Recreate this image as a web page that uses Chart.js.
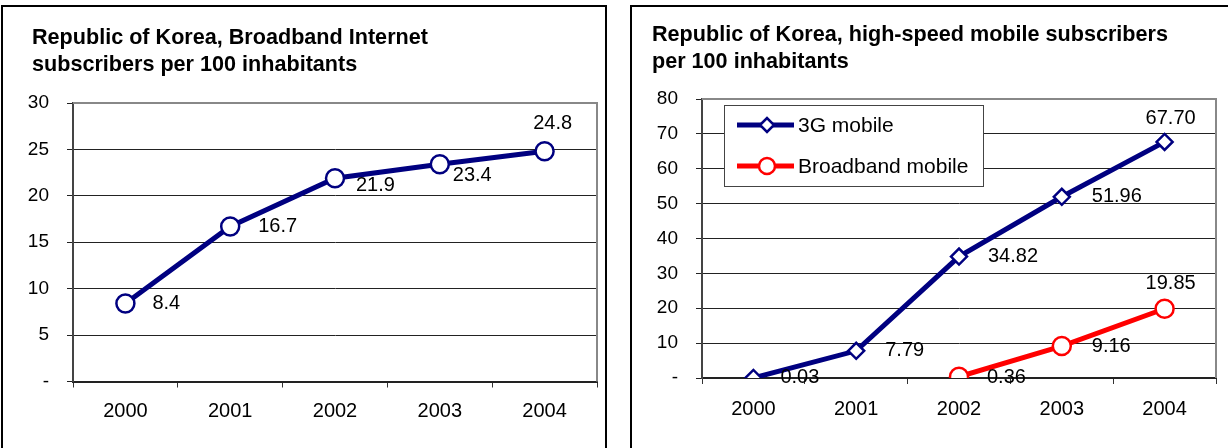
<!DOCTYPE html>
<html>
<head>
<meta charset="utf-8">
<script src="https://cdn.jsdelivr.net/npm/chart.js@4.4.1/dist/chart.umd.min.js"></script>
<style>
  html, body { margin: 0; padding: 0; background: #fff; overflow: hidden; }
  body { width: 1228px; height: 448px; position: relative; }
  .panel { position: absolute; top: 5px; height: 470px; border: 2px solid #000; background: #fff; }
  #panelLeft { left: 1px; width: 602px; }
  #panelRight { left: 630px; width: 640px; }
  canvas { position: absolute; top: 0; }
  #broadband { left: 0; }
  #mobile { left: 620px; }
</style>
</head>
<body>
<div class="panel" id="panelLeft"></div>
<div class="panel" id="panelRight"></div>
<canvas id="broadband" width="620" height="448"></canvas>
<canvas id="mobile" width="608" height="448"></canvas>
<script>
// data
const years = ['2000', '2001', '2002', '2003', '2004'];
const broadbandInternet = [8.4, 16.7, 21.9, 23.4, 24.8];
const mobile3G = [0.03, 7.79, 34.82, 51.96, 67.70];
const broadbandMobile = [null, null, 0.36, 9.16, 19.85];

const titleLeft = ['Republic of Korea, Broadband Internet', 'subscribers per 100 inhabitants'];
const titleRight = ['Republic of Korea, high-speed mobile subscribers', 'per 100 inhabitants'];

const FONT = "'Liberation Sans', Arial, sans-serif";
Chart.defaults.font.family = FONT;
Chart.defaults.color = '#000';

// where each value label sits relative to its point: [dx, dy, align]
const leftLabelPlaces = [
  [[27, 0, 'left'], [28, 0, 'left'], [21, 7, 'left'], [13, 11, 'left'], [8, -28, 'center']]
];
const rightLabelPlaces = [
  [[27, 0, 'left'], [29, 0, 'left'], [29, 0, 'left'], [30, 0, 'left'], [6, -23, 'center']],
  [null, null, [28, 1, 'left'], [30, 0, 'left'], [6, -25, 'center']]
];

const valueLabels = {
  id: 'valueLabels',
  afterDatasetsDraw(chart, args, opts) {
    const ctx = chart.ctx;
    ctx.save();
    ctx.font = '20px ' + FONT;
    ctx.fillStyle = '#000';
    ctx.textBaseline = 'middle';
    chart.data.datasets.forEach((ds, i) => {
      const meta = chart.getDatasetMeta(i);
      meta.data.forEach((pt, j) => {
        const v = ds.data[j];
        const place = opts.places[i][j];
        if (v === null || !place) return;
        ctx.textAlign = place[2];
        ctx.fillText(v.toFixed(opts.decimals), pt.x + place[0], pt.y + place[1]);
      });
    });
    ctx.restore();
  }
};

// title starts further right than the y axis labels
const titleShift = {
  id: 'titleShift',
  afterLayout(chart, args, opts) {
    if (chart.titleBlock) chart.titleBlock.left = opts.x;
  }
};

// grey top and right edge of the plot area
const plotFrame = {
  id: 'plotFrame',
  beforeDatasetsDraw(chart) {
    const ctx = chart.ctx, a = chart.chartArea;
    ctx.save();
    ctx.strokeStyle = '#888';
    ctx.lineWidth = 2;
    ctx.beginPath();
    ctx.moveTo(a.left, a.top);
    ctx.lineTo(a.right, a.top);
    ctx.lineTo(a.right, a.bottom);
    ctx.stroke();
    ctx.restore();
  }
};

function marker(ctx, style, x, y, r) {
  ctx.beginPath();
  if (style === 'rectRot') {
    ctx.moveTo(x - r, y); ctx.lineTo(x, y - r); ctx.lineTo(x + r, y); ctx.lineTo(x, y + r);
    ctx.closePath();
  } else {
    ctx.arc(x, y, r, 0, Math.PI * 2);
  }
  ctx.fill();
  ctx.stroke();
}

// boxed legend inside the plot, like the Excel one
const boxLegend = {
  id: 'boxLegend',
  afterDatasetsDraw(chart, args, opts) {
    if (!opts.show) return;
    const ctx = chart.ctx, a = chart.chartArea;
    const bx = a.left + 22, by = a.top + 6;
    ctx.save();
    ctx.fillStyle = '#fff';
    ctx.fillRect(bx, by, 259, 81);
    ctx.strokeStyle = '#444';
    ctx.lineWidth = 1;
    ctx.strokeRect(bx + 0.5, by + 0.5, 259, 81);
    chart.data.datasets.forEach((ds, i) => {
      const y = by + 20 + i * 41;
      ctx.strokeStyle = ds.borderColor;
      ctx.lineWidth = 5;
      ctx.beginPath();
      ctx.moveTo(bx + 13, y);
      ctx.lineTo(bx + 70, y);
      ctx.stroke();
      ctx.fillStyle = '#fff';
      ctx.lineWidth = 2.5;
      marker(ctx, ds.pointStyle, bx + 43, y, ds.pointStyle === 'rectRot' ? 7 : 8);
      ctx.fillStyle = '#000';
      ctx.font = '21px ' + FONT;
      ctx.textAlign = 'left';
      ctx.textBaseline = 'middle';
      ctx.fillText(ds.label, bx + 74, y + 1);
    });
    ctx.restore();
  }
};

function makeOptions(cfg) {
  return {
    responsive: false,
    animation: false,
    devicePixelRatio: 1,
    layout: { padding: { left: 20, right: cfg.padRight, top: 0, bottom: 0 } },
    plugins: {
      legend: { display: false },
      tooltip: { enabled: false },
      title: {
        display: true,
        text: cfg.title,
        align: 'start',
        color: '#000',
        font: { size: 21.6, weight: 'bold', lineHeight: 27 / 21.6 },
        padding: { top: cfg.titleTop, bottom: cfg.titleBottom }
      },
      titleShift: { x: 32 },
      valueLabels: { places: cfg.places, decimals: cfg.decimals },
      boxLegend: { show: cfg.legend }
    },
    scales: {
      x: {
        offset: true,
        afterFit: s => { s.height = cfg.xHeight; },
        border: { color: '#222', width: 2 },
        grid: { offset: true, drawOnChartArea: false, tickLength: 6, color: '#333' },
        ticks: { color: '#000', padding: cfg.xPad, font: { size: 20 } }
      },
      y: {
        min: 0,
        max: cfg.max,
        afterFit: s => { s.width = cfg.yWidth; },
        border: { color: '#444', width: 2 },
        grid: { color: '#222', tickLength: 6 },
        ticks: {
          stepSize: cfg.step,
          padding: 18,
          color: '#000',
          font: { size: 19 },
          callback: v => v === 0 ? '-' : v
        }
      }
    }
  };
}

new Chart(document.getElementById('broadband'), {
  type: 'line',
  data: {
    labels: years,
    datasets: [{
      label: 'Broadband Internet',
      data: broadbandInternet,
      borderColor: '#000080',
      borderWidth: 5,
      pointStyle: 'circle',
      pointRadius: 9,
      pointBorderWidth: 2.5,
      pointBackgroundColor: '#fff',
      pointBorderColor: '#000080'
    }]
  },
  options: makeOptions({
    title: titleLeft, padRight: 23, yWidth: 53, xHeight: 66.5, xPad: 12,
    titleTop: 25, titleBottom: 24, max: 30, step: 5,
    places: leftLabelPlaces, decimals: 1, legend: false
  }),
  plugins: [titleShift, plotFrame, valueLabels, boxLegend]
});

new Chart(document.getElementById('mobile'), {
  type: 'line',
  data: {
    labels: years,
    datasets: [{
      label: '3G mobile',
      data: mobile3G,
      borderColor: '#000080',
      borderWidth: 5,
      pointStyle: 'rectRot',
      pointRadius: 8,
      pointBorderWidth: 2.5,
      pointBackgroundColor: '#fff',
      pointBorderColor: '#000080'
    }, {
      label: 'Broadband mobile',
      data: broadbandMobile,
      borderColor: '#ff0000',
      borderWidth: 5,
      pointStyle: 'circle',
      pointRadius: 9,
      pointBorderWidth: 2.5,
      pointBackgroundColor: '#fff',
      pointBorderColor: '#ff0000'
    }]
  },
  options: makeOptions({
    title: titleRight, padRight: 12, yWidth: 62, xHeight: 70, xPad: 13,
    titleTop: 22, titleBottom: 23, max: 80, step: 10,
    places: rightLabelPlaces, decimals: 2, legend: true
  }),
  plugins: [titleShift, plotFrame, valueLabels, boxLegend]
});
</script>
</body>
</html>
